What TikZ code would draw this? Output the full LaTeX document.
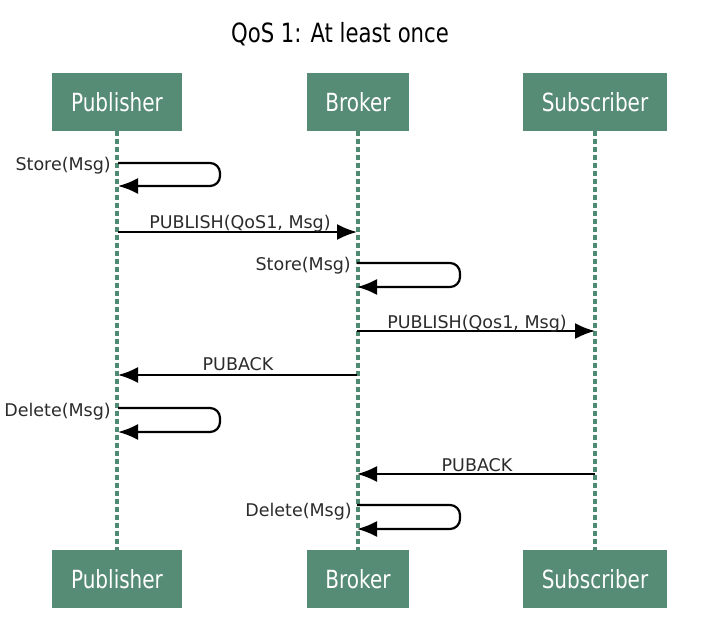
\documentclass[tikz,border=0pt]{standalone}
\usepackage{fontspec}
\setmainfont{DejaVu Sans}
\newfontfamily\condfont[FakeStretch=0.8]{DejaVu Sans}
\usetikzlibrary{arrows.meta}
\usetikzlibrary{shapes}
\definecolor{actorGreen}{HTML}{568B75}
\definecolor{lifeGreen}{HTML}{4F8A73}
\definecolor{labelGray}{HTML}{2B2B2B}

\begin{document}
\begin{tikzpicture}[x = 1pt, y = -1pt]
	\tikzstyle{actorStyle} = [shape = rectangle, fill = actorGreen, text = white, inner sep = 0pt, minimum height = 58pt, font = \condfont\fontsize{25}{29}\selectfont]
	\tikzstyle{lifeStyle} = [draw = lifeGreen, line width = 3.5pt, dash pattern = on 5pt off 3pt]
	\tikzstyle{msgStyle} = [draw = black, line width = 2.2pt, -{Latex[length = 20pt, width = 16pt]}]
	\tikzstyle{selfStyle} = [msgStyle, rounded corners = 10pt]
	\tikzstyle{labelStyle} = [inner sep = 0pt, text = labelGray, font = \fontsize{17.5}{21}\selectfont]
	\useasboundingbox (0,0) rectangle (703,634);
	\node[inner sep = 0pt, anchor = base, font = \condfont\fontsize{26.5}{30}\selectfont] (title) at (340,42) {QoS 1: At least once};
	\node[actorStyle, minimum width = 130pt] (pubTop) at (117,102) {Publisher};
	\node[actorStyle, minimum width = 102pt] (brkTop) at (358,102) {Broker};
	\node[actorStyle, minimum width = 144pt] (subTop) at (595,102) {Subscriber};
	\node[actorStyle, minimum width = 130pt] (pubBot) at (117,579) {Publisher};
	\node[actorStyle, minimum width = 102pt] (brkBot) at (358,579) {Broker};
	\node[actorStyle, minimum width = 144pt] (subBot) at (595,579) {Subscriber};
	\draw[lifeStyle] (pubTop.south) -- (pubBot.north);
	\draw[lifeStyle] (brkTop.south) -- (brkBot.north);
	\draw[lifeStyle] (subTop.south) -- (subBot.north);
	\coordinate (pubStoreA) at (118,163);
	\coordinate (pubStoreB) at (118,186);
	\coordinate (pubPub) at (118,232);
	\coordinate (brkPub) at (357,232);
	\coordinate (brkStoreA) at (357,263);
	\coordinate (brkStoreB) at (357,287);
	\coordinate (brkFwd) at (357,331);
	\coordinate (subFwd) at (595,331);
	\coordinate (brkAck) at (357,375);
	\coordinate (pubAck) at (118,375);
	\coordinate (pubDelA) at (118,408);
	\coordinate (pubDelB) at (118,432);
	\coordinate (subAck) at (595,474);
	\coordinate (brkAck2) at (357,474);
	\coordinate (brkDelA) at (357,505);
	\coordinate (brkDelB) at (357,529);
	\draw[selfStyle] (pubStoreA) -- (220,163) -- (220,186) -- (pubStoreB);
	\draw[msgStyle] (pubPub) -- (brkPub);
	\draw[selfStyle] (brkStoreA) -- (460,263) -- (460,287) -- (brkStoreB);
	\draw[msgStyle] (brkFwd) -- (subFwd);
	\draw[msgStyle] (brkAck) -- (pubAck);
	\draw[selfStyle] (pubDelA) -- (220,408) -- (220,432) -- (pubDelB);
	\draw[msgStyle] (subAck) -- (brkAck2);
	\draw[selfStyle] (brkDelA) -- (460,505) -- (460,529) -- (brkDelB);
	\node[labelStyle, anchor = base east] (lblStore1) at (111,170) {Store(Msg)};
	\node[labelStyle, anchor = base] (lblPub1) at (240,228) {PUBLISH(QoS1, Msg)};
	\node[labelStyle, anchor = base east] (lblStore2) at (351,270) {Store(Msg)};
	\node[labelStyle, anchor = base] (lblPub2) at (477,328) {PUBLISH(Qos1, Msg)};
	\node[labelStyle, anchor = base] (lblAck1) at (238,370) {PUBACK};
	\node[labelStyle, anchor = base east] (lblDel1) at (111,416) {Delete(Msg)};
	\node[labelStyle, anchor = base] (lblAck2) at (477,471) {PUBACK};
	\node[labelStyle, anchor = base east] (lblDel2) at (352,516) {Delete(Msg)};
\end{tikzpicture}
\end{document}
